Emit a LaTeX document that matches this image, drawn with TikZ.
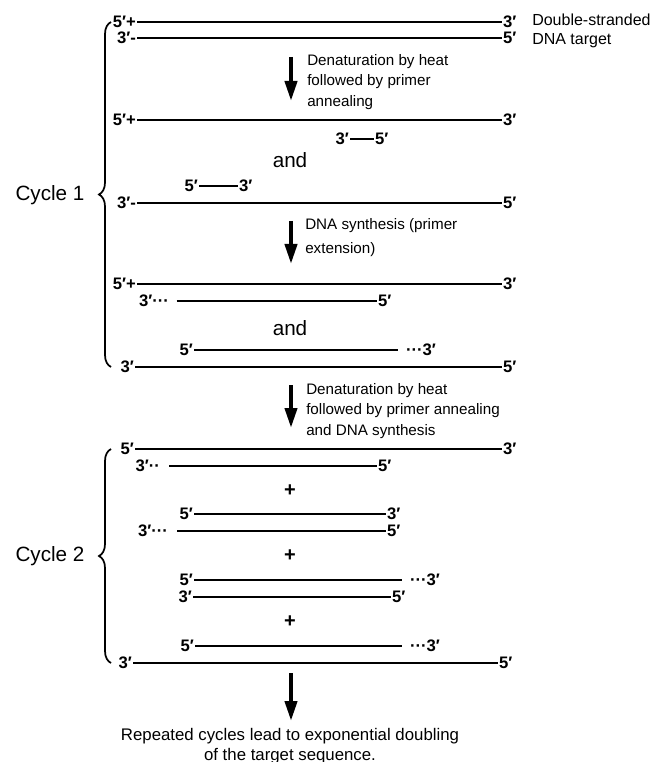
\documentclass[tikz,border=0pt]{standalone}
\usepackage{fontspec}
\setmainfont{Liberation Sans}
\usetikzlibrary{arrows.meta,decorations.pathreplacing,positioning}
\tikzset{>=latex}
\tikzset{strand/.style={line width=1.8pt}}
\tikzset{endlab/.style={font=\bfseries\fontsize{12.5}{14}\selectfont,inner sep=0.6pt}}
\tikzset{stepdown/.style={line width=3pt,-{Triangle[length=15pt,width=9pt]}}}
\tikzset{note/.style={font=\fontsize{11.4}{15.5}\selectfont,align=left,inner sep=0pt,anchor=west}}
\tikzset{word/.style={font=\fontsize{15.5}{18}\selectfont,inner sep=0pt}}
\tikzset{cycbrace/.style={decorate,decoration={brace,amplitude=9pt},line width=1.3pt}}

\begin{document}
\begin{tikzpicture}[x=0.75pt,y=-0.75pt]
      \useasboundingbox (0,0) rectangle (655,762);
      % cycle 1
      \node[endlab,anchor=east] (a1l) at (137,22) {5′+};
      \node[endlab,anchor=west] (a1r) at (502,22) {3′};
      \node[endlab,anchor=east] (a2l) at (137,38) {3′-};
      \node[endlab,anchor=west] (a2r) at (502,38) {5′};
      \draw[strand] (a1l.east) -- (a1r.west);
      \draw[strand] (a2l.east) -- (a2r.west);
      \node[note,font=\fontsize{12}{14.5}\selectfont] (target) at (532,31) {Double-stranded\\DNA target};
      \coordinate (s1a) at (291,57);
      \coordinate (s1b) at (291,101);
      \draw[stepdown] (s1a) -- (s1b);
      \node[note] (heat1) at (307,82) {Denaturation by heat\\followed by primer\\annealing};
      \node[endlab,anchor=east] (b1l) at (137,120) {5′+};
      \node[endlab,anchor=west] (b1r) at (502,120) {3′};
      \draw[strand] (b1l.east) -- (b1r.west);
      \node[endlab,anchor=east] (p1l) at (350,139) {3′};
      \node[endlab,anchor=west] (p1r) at (374,139) {5′};
      \draw[strand] (p1l.east) -- (p1r.west);
      \node[word] (and1) at (290,160) {and};
      \node[endlab,anchor=east] (p2l) at (199,186) {5′};
      \node[endlab,anchor=west] (p2r) at (238,186) {3′};
      \draw[strand] (p2l.east) -- (p2r.west);
      \node[endlab,anchor=east] (b2l) at (137,203) {3′-};
      \node[endlab,anchor=west] (b2r) at (502,203) {5′};
      \draw[strand] (b2l.east) -- (b2r.west);
      \coordinate (s2a) at (291,221);
      \coordinate (s2b) at (291,264);
      \draw[stepdown] (s2a) -- (s2b);
      \node[note,font=\fontsize{11.4}{18}\selectfont] (synth) at (305,238) {DNA synthesis (primer\\extension)};
      \node[endlab,anchor=east] (c1l) at (137,284) {5′+};
      \node[endlab,anchor=west] (c1r) at (502,284) {3′};
      \draw[strand] (c1l.east) -- (c1r.west);
      \node[endlab,anchor=east] (c2l) at (170,301) {3′···};
      \node[endlab,anchor=west] (c2r) at (377,301) {5′};
      \draw[strand,shorten <=5pt] (c2l.east) -- (c2r.west);
      \node[word] (and2) at (290,328) {and};
      \node[endlab,anchor=east] (d1l) at (194,350) {5′};
      \node[endlab,anchor=west] (d1r) at (405,350) {···3′};
      \draw[strand,shorten >=5pt] (d1l.east) -- (d1r.west);
      \node[endlab,anchor=east] (d2l) at (135,367) {3′};
      \node[endlab,anchor=west] (d2r) at (502,367) {5′};
      \draw[strand] (d2l.east) -- (d2r.west);
      \coordinate (br1a) at (111,367);
      \coordinate (br1b) at (111,22);
      \draw[cycbrace] (br1a) -- (br1b);
      \node[word] (cyc1) at (50,195) {Cycle 1};
      % between cycles
      \coordinate (s3a) at (291,385);
      \coordinate (s3b) at (291,428);
      \draw[stepdown] (s3a) -- (s3b);
      \node[note] (heat2) at (306,411) {Denaturation by heat\\followed by primer annealing\\and DNA synthesis};
      % cycle 2
      \node[endlab,anchor=east] (e1l) at (135,449) {5′};
      \node[endlab,anchor=west] (e1r) at (502,449) {3′};
      \draw[strand] (e1l.east) -- (e1r.west);
      \node[endlab,anchor=east] (e2l) at (161,466) {3′··};
      \node[endlab,anchor=west] (e2r) at (377,466) {5′};
      \draw[strand,shorten <=6pt] (e2l.east) -- (e2r.west);
      \node[word,font=\bfseries\fontsize{15}{18}\selectfont] (plus1) at (290,491) {+};
      \node[endlab,anchor=east] (f1l) at (194,514) {5′};
      \node[endlab,anchor=west] (f1r) at (386,514) {3′};
      \draw[strand] (f1l.east) -- (f1r.west);
      \node[endlab,anchor=east] (f2l) at (169,531) {3′···};
      \node[endlab,anchor=west] (f2r) at (386,531) {5′};
      \draw[strand,shorten <=6pt] (f2l.east) -- (f2r.west);
      \node[word,font=\bfseries\fontsize{15}{18}\selectfont] (plus2) at (290,556) {+};
      \node[endlab,anchor=east] (g1l) at (194,580) {5′};
      \node[endlab,anchor=west] (g1r) at (409,580) {···3′};
      \draw[strand,shorten >=5pt] (g1l.east) -- (g1r.west);
      \node[endlab,anchor=east] (g2l) at (193,597) {3′};
      \node[endlab,anchor=west] (g2r) at (391,597) {5′};
      \draw[strand] (g2l.east) -- (g2r.west);
      \node[word,font=\bfseries\fontsize{15}{18}\selectfont] (plus3) at (290,622) {+};
      \node[endlab,anchor=east] (h1l) at (195,646) {5′};
      \node[endlab,anchor=west] (h1r) at (409,646) {···3′};
      \draw[strand,shorten >=5pt] (h1l.east) -- (h1r.west);
      \node[endlab,anchor=east] (h2l) at (133,663) {3′};
      \node[endlab,anchor=west] (h2r) at (498,663) {5′};
      \draw[strand] (h2l.east) -- (h2r.west);
      \coordinate (br2a) at (111,663);
      \coordinate (br2b) at (111,449);
      \draw[cycbrace] (br2a) -- (br2b);
      \node[word] (cyc2) at (50,556) {Cycle 2};
      % result
      \coordinate (s4a) at (291,673);
      \coordinate (s4b) at (291,721);
      \draw[stepdown] (s4a) -- (s4b);
      \node[note,align=center,anchor=center,font=\fontsize{12.6}{15}\selectfont] (result) at (290,746) {Repeated cycles lead to exponential doubling\\of the target sequence.};
\end{tikzpicture}
\end{document}
